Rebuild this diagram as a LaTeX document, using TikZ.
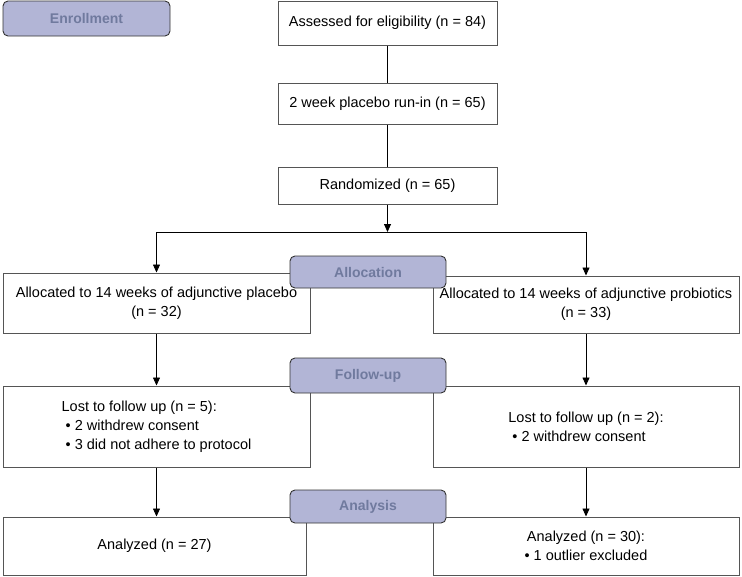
\documentclass[tikz,border=0pt]{standalone}
\usepackage{fontspec}
\setmainfont{Liberation Sans}
\usetikzlibrary{shapes,arrows.meta,positioning,calc}
\definecolor{tagfill}{RGB}{178,181,214}
\definecolor{tagtext}{RGB}{112,122,158}
\definecolor{boxline}{RGB}{85,85,85}

\begin{document}
\begin{tikzpicture}[x=1pt, y=-1pt,
    box/.style={draw=boxline, line width=1pt, rectangle, inner sep=2pt, align=center, font=\fontsize{14.5}{19}\selectfont},
    tag/.style={draw=black!80, line width=0.9pt, rectangle, rounded corners=5pt, fill=tagfill, text=tagtext, font=\fontsize{14}{16}\selectfont\bfseries},
    arr/.style={-{Triangle[length=8pt,width=7pt]}, line width=0.8pt}]
    \useasboundingbox (0,0) rectangle (742,576);

    % Enrollment
    \node[tag, minimum width=167pt, minimum height=35pt] (enroll) at (86.5,18.5) {Enrollment};
    \node[box, minimum width=219pt, minimum height=44pt] (assess) at (387.5,23) {Assessed for eligibility (n = 84)};
    \node[box, minimum width=219pt, minimum height=41pt] (runin) at (387.5,103.5) {2 week placebo run-in (n = 65)};
    \node[box, minimum width=219pt, minimum height=37pt] (random) at (387.5,185.5) {Randomized (n = 65)};
    \coordinate (split) at (387.5,232);

    % Allocation
    \node[box, minimum width=307pt, minimum height=60pt] (allocL) at (156.5,303) {Allocated to 14 weeks of adjunctive placebo\\(n = 32)};
    \node[box, minimum width=306pt, minimum height=57pt] (allocR) at (586,304.5) {Allocated to 14 weeks of adjunctive probiotics\\(n = 33)};

    % Follow-up
    \node[box, align=left, minimum width=307pt, minimum height=81pt] (followL) at (156.5,426.5) {Lost to follow up (n = 5):\\ \ \textbullet\ 2 withdrew consent\\ \ \textbullet\ 3 did not adhere to protocol};
    \node[box, align=left, minimum width=306pt, minimum height=81pt] (followR) at (586,426.5) {Lost to follow up (n = 2):\\ \ \textbullet\ 2 withdrew consent};

    % Analysis
    \node[box, minimum width=303pt, minimum height=58pt] (analysisL) at (154.5,546) {Analyzed (n = 27)};
    \node[box, minimum width=306pt, minimum height=58pt] (analysisR) at (586,546) {Analyzed (n = 30):\\\textbullet\ 1 outlier excluded};

    % Connectors
    \draw[line width=0.8pt] (assess) -- (runin);
    \draw[line width=0.8pt] (runin) -- (random);
    \draw[arr] (random) -- (split);
    \draw[arr] (split) -| (allocL);
    \draw[arr] (split) -| (allocR);
    \draw[arr] (allocL) -- (followL);
    \draw[arr] (allocR) -- (followR);
    \draw[arr] (followL.south) -- (followL.south |- analysisL.north);
    \draw[arr] (followR) -- (analysisR);

    % Stage tags
    \node[tag, minimum width=156pt, minimum height=32pt] (allocation) at (368,272) {Allocation};
    \node[tag, minimum width=156pt, minimum height=35pt] (followup) at (368,375.5) {Follow-up};
    \node[tag, minimum width=156pt, minimum height=33pt] (analysis) at (368,506.5) {Analysis};
\end{tikzpicture}
\end{document}
